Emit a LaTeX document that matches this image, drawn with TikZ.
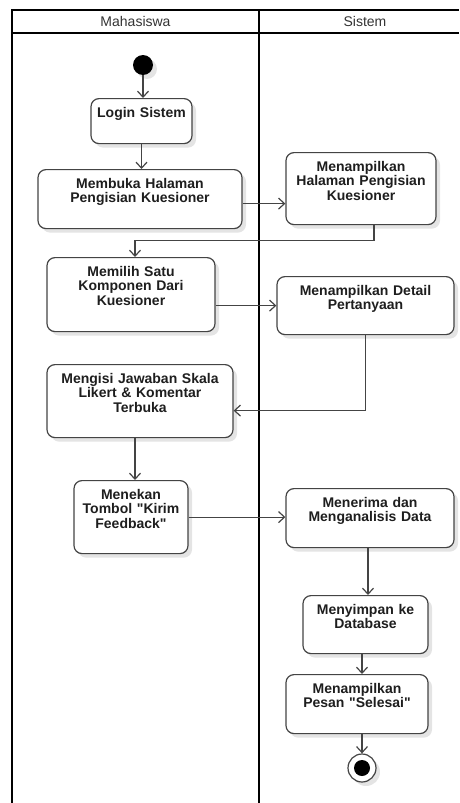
\documentclass[tikz,border=0pt]{standalone}
\usepackage{fontspec}
\setmainfont{Liberation Sans}
\usetikzlibrary{arrows.meta}
\usetikzlibrary{shadows}

\definecolor{linegray}{HTML}{444444}
\definecolor{textgray}{HTML}{1E1E1E}
\definecolor{headgray}{HTML}{333333}
\definecolor{shadegray}{HTML}{E4E4E4}

\begin{document}
\begin{tikzpicture}[x=1pt,y=-1pt,>={Straight Barb[length=6pt,width=11pt]},
    lane/.style={line width=2pt, black},
    head/.style={font=\fontsize{14}{15}\selectfont, text=headgray},
    shade/.style={drop shadow={shadow xshift=4pt, shadow yshift=-4pt, fill=shadegray, opacity=1}},
    activity/.style={draw=linegray, line width=1.2pt, rounded corners=8pt, fill=white, shade,
        font=\fontsize{14}{14.5}\bfseries\selectfont, text=textgray, align=center,
        inner xsep=3pt, inner ysep=4pt, text height=14.5pt, anchor=north},
    flow/.style={->, line width=1.2pt, linegray}]

        \useasboundingbox (0,0) rectangle (459,803);

        %%% SWIMLANES

        % Frame
        \draw[lane] (12,803) -- (12,10) -- (459,10);
        \draw[lane] (12,33) -- (459,33);
        \draw[lane] (259,10) -- (259,803);

        % Lane titles
        \node[head] (mhs) at (135.5,21) {Mahasiswa};
        \node[head] (sys) at (365,21) {Sistem};

        %%% MAHASISWA

        \node[circle, fill=black, minimum size=20pt, inner sep=0pt, shade] (start) at (143,65) {};
        \node[activity, text width=95pt, text depth=22.5pt] (login) at (141.5,98) {Login Sistem};
        \node[activity, text width=198pt, text depth=36.5pt] (membuka) at (140,169) {Membuka Halaman\\Pengisian Kuesioner};
        \node[activity, text width=162pt, text depth=51.5pt] (memilih) at (131,257) {Memilih Satu\\Komponen Dari\\Kuesioner};
        \node[activity, text width=180pt, text depth=50.5pt] (mengisi) at (140,364) {Mengisi Jawaban Skala\\Likert \& Komentar\\Terbuka};
        \node[activity, text width=108pt, text depth=50.5pt] (menekan) at (131,480) {Menekan\\Tombol \textquotedbl Kirim\\Feedback\textquotedbl};

        %%% SISTEM

        \node[activity, text width=144pt, text depth=49.5pt] (halaman) at (361,152) {Menampilkan\\Halaman Pengisian\\Kuesioner};
        \node[activity, text width=171pt, text depth=35.5pt] (detail) at (365.5,276) {Menampilkan Detail\\Pertanyaan};
        \node[activity, text width=162pt, text depth=36.5pt] (menerima) at (370,488) {Menerima dan\\Menganalisis Data};
        \node[activity, text width=119pt, text depth=35.5pt] (menyimpan) at (365.5,595) {Menyimpan ke\\Database};
        \node[activity, text width=136pt, text depth=36.5pt] (pesan) at (357,674) {Menampilkan\\Pesan \textquotedbl Selesai\textquotedbl};

        % End state
        \node[circle, draw=linegray, line width=1.2pt, fill=white, minimum size=28pt, inner sep=0pt, shade] (stop) at (362,768) {};
        \fill[black] (stop) circle (8pt);

        %%% FLOWS

        \draw[flow] (start) -- (start |- login.north);
        \draw[flow] (login.south) -- (login.south |- membuka.north);
        \draw[flow] ([yshift=-4.5pt]membuka.east) -- ([yshift=-4.5pt]membuka.east -| halaman.west);
        \draw[flow] ([xshift=13pt]halaman.south) -- ++(0,15) -| ([xshift=4pt]memilih.north);
        \draw[flow] (memilih.east |- detail.west) -- (detail.west);
        \draw[flow] (detail.south) |- ([yshift=-9.5pt]mengisi.east);
        \draw[flow] ([xshift=-5pt]mengisi.south) -- ([xshift=-5pt]mengisi.south |- menekan.north);
        \draw[flow] (menekan.east) -- (menekan.east -| menerima.west);
        \draw[flow] ([xshift=-2pt]menerima.south) -- ([xshift=-2pt]menerima.south |- menyimpan.north);
        \draw[flow] ([xshift=-3.5pt]menyimpan.south) -- ([xshift=-3.5pt]menyimpan.south |- pesan.north);
        \draw[flow] (stop |- pesan.south) -- (stop);

\end{tikzpicture}
\end{document}
